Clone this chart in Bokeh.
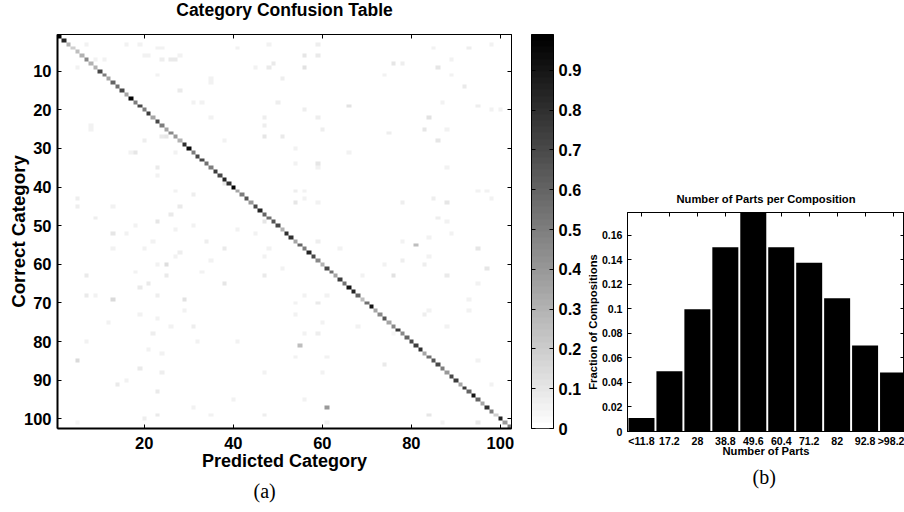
import numpy as np
from bokeh.embed import file_html
from bokeh.resources import INLINE
from bokeh.layouts import row
from bokeh.models import (FixedTicker, LinearAxis, LinearColorMapper, Range1d, Title)
from bokeh.plotting import figure

# ---------- data ----------
title_a = "Category Confusion Table"
xlabel_a = "Predicted Category"
ylabel_a = "Correct Category"
xticks_a = [20, 40, 60, 80, 100]
yticks_a = [10, 20, 30, 40, 50, 60, 70, 80, 90, 100]
cbar_ticks = [0, 0.1, 0.2, 0.3, 0.4, 0.5, 0.6, 0.7, 0.8, 0.9]
cbar_max = 0.99

diagonal = [
    .99, .85, .30, .20, .25, .30, .45, .30, .30, .70, .50, .35, .60, .55, .70, .35, .97, .50, .70, .50,
    .75, .35, .70, .50, .35, .45, .40, .30, .80, .95, .50, .70, .70, .55, .50, .75, .70, .85, .80, .97,
    .35, .50, .65, .40, .70, .85, .60, .55, .65, .70, .30, .80, .80, .35, .60, .50, .85, .70, .45, .30,
    .70, .55, .35, .75, .55, .90, .85, .60, .25, .55, .90, .35, .45, .65, .35, .45, .75, .45, .60, .70,
    .75, .80, .35, .55, .65, .70, .50, .40, .70, .75, .35, .75, .60, .90, .60, .35, .80, .50, .20, .85,
    .40, .50,
]

# (correct category, predicted category, fraction) of the off-diagonal cells that can be read
off_diagonal = [
    (3, 7, .05), (3, 16, .06), (3, 19, .06), (4, 23, .05), (4, 24, .05), (6, 20, .05), (6, 21, .05),
    (7, 24, .07), (7, 26, .08), (7, 27, .08), (7, 11, .05), (7, 9, .05), (6, 28, .05), (9, 5, .05),
    (11, 23, .05), (15, 28, .09), (18, 31, .06), (18, 33, .05), (24, 8, .06), (25, 8, .06), (27, 24, .08),
    (27, 25, .10), (31, 18, .10), (31, 17, .05), (28, 20, .07), (31, 27, .06),
    (6, 56, .10), (6, 59, .08), (9, 56, .12), (8, 49, .08), (9, 48, .08), (9, 45, .06), (12, 35, .06),
    (13, 35, .05), (19, 66, .12), (22, 47, .07), (24, 47, .07), (27, 47, .10), (27, 51, .08), (25, 60, .07),
    (22, 59, .07), (34, 59, .10), (31, 66, .05), (30, 54, .05), (20, 56, .07), (18, 50, .07), (22, 35, .06),
    (3, 59, .07), (3, 48, .06), (4, 41, .06), (34, 54, .05), (28, 38, .05), (12, 51, .07),
    (8, 76, .10), (8, 78, .07), (9, 86, .10), (14, 92, .09), (22, 84, .12), (25, 83, .10), (28, 86, .10),
    (18, 87, .06), (19, 95, .07), (20, 98, .06), (20, 100, .06), (26, 75, .07), (4, 93, .07), (4, 85, .06),
    (7, 89, .05), (11, 74, .06), (11, 89, .05), (3, 98, .06), (25, 88, .05),
    (43, 5, .07), (45, 5, .07), (48, 9, .07), (45, 13, .06), (49, 23, .10), (45, 28, .08), (47, 26, .08),
    (52, 13, .10), (52, 16, .06), (56, 13, .06), (56, 20, .06), (60, 25, .13), (60, 23, .06), (63, 7, .08),
    (63, 25, .08), (62, 18, .06), (65, 21, .09), (66, 19, .08), (68, 7, .08), (68, 9, .06), (69, 13, .15),
    (69, 29, .12), (68, 23, .07), (42, 31, .07), (37, 23, .06), (35, 23, .08), (41, 27, .05), (57, 28, .07),
    (58, 27, .06), (54, 22, .06), (51, 27, .06), (62, 33, .05), (50, 31, .06), (50, 18, .05),
    (49, 47, .10), (39, 38, .08), (44, 54, .10), (56, 38, .09), (65, 38, .10), (63, 47, .09), (43, 56, .06),
    (41, 54, .07), (41, 56, .06), (54, 59, .07), (52, 45, .05), (59, 35, .06), (58, 47, .06), (68, 56, .06),
    (35, 59, .06), (44, 59, .05), (56, 64, .05), (61, 51, .05), (56, 48, .05), (54, 34, .07), (51, 41, .05),
    (68, 61, .06),
    (55, 81, .25), (56, 95, .10), (63, 76, .12), (61, 97, .10), (44, 88, .10), (44, 78, .07), (43, 85, .07),
    (48, 86, .07), (63, 88, .08), (63, 69, .06), (60, 83, .07), (60, 74, .06), (59, 78, .07), (52, 89, .06),
    (53, 84, .06), (54, 78, .06), (65, 95, .06), (58, 84, .05), (69, 93, .06), (35, 88, .06), (41, 95, .05),
    (41, 97, .05), (43, 98, .05), (49, 88, .05), (69, 69, .06),
    (85, 5, .14), (87, 19, .08), (78, 22, .07), (76, 26, .06), (76, 31, .07), (80, 32, .06), (80, 41, .06),
    (93, 23, .08), (91, 14, .08), (88, 24, .07), (99, 23, .08), (97, 31, .06), (99, 47, .07), (88, 47, .06),
    (82, 21, .05), (83, 24, .05), (90, 16, .05), (75, 12, .05), (80, 7, .05), (100, 20, .07), (101, 5, .04),
    (95, 40, .05), (99, 35, .05), (73, 19, .05), (72, 29, .05), (74, 23, .05),
    (81, 55, .25), (97, 61, .40), (99, 84, .10), (86, 74, .08), (70, 59, .08), (70, 54, .06), (73, 54, .06),
    (73, 83, .07), (78, 59, .07), (75, 60, .06), (101, 95, .08), (101, 87, .06), (85, 95, .06), (88, 60, .05),
    (95, 56, .06), (91, 98, .05), (72, 84, .06), (72, 93, .06), (84, 54, .06), (84, 61, .06), (78, 76, .04),
    (76, 68, .05), (76, 88, .05), (101, 61, .05), (78, 56, .05),
]

title_b = "Number of Parts per Composition"
xlabel_b = "Number of Parts"
ylabel_b = "Fraction of Compositions"
part_labels = ["<11.8", "17.2", "28", "38.8", "49.6", "60.4", "71.2", "82", "92.8", ">98.2"]
part_fractions = [0.011, 0.049, 0.0995, 0.150, 0.180, 0.150, 0.1375, 0.1085, 0.070, 0.048]
yticks_b = [0, 0.02, 0.04, 0.06, 0.08, 0.1, 0.12, 0.14, 0.16]

# ---------- helpers ----------
FONT = "Liberation Sans"
gray_palette = ["#%02x%02x%02x" % (g, g, g) for g in np.linspace(255, 0, 64).astype(int)]
mapper = LinearColorMapper(palette=gray_palette, low=0, high=cbar_max)


def style_axis(ax, tick_size, label_size, width=1):
    ax.major_tick_in = 4
    ax.major_tick_out = 0
    ax.minor_tick_in = 0
    ax.minor_tick_out = 0
    ax.axis_line_color = "black"
    ax.axis_line_width = width
    ax.major_tick_line_color = "black"
    ax.major_tick_line_width = 1
    ax.major_label_text_font = FONT
    ax.major_label_text_font_style = "bold"
    ax.major_label_text_font_size = tick_size
    ax.major_label_text_color = "black"
    ax.axis_label_text_font = FONT
    ax.axis_label_text_font_style = "bold"
    ax.axis_label_text_font_size = label_size
    ax.axis_label_text_color = "black"


def blank_axis(ticks, reserve=0):
    ax = LinearAxis(ticker=FixedTicker(ticks=ticks))
    style_axis(ax, "1px", "1px")
    ax.major_label_overrides = {t: "" for t in ticks}
    ax.major_label_standoff = 0
    if reserve:
        # invisible outward ticks reserve room between the frame's top ticks and the title
        ax.major_tick_out = reserve
        ax.major_tick_in = 0
        ax.major_tick_line_color = None
        ax.axis_line_color = None
    return ax


def base_fig(width, height, left, right, top, bottom, xr, yr, margin=(0, 0, 0, 0)):
    p = figure(width=width, height=height, x_range=xr, y_range=yr, output_backend="svg",
               toolbar_location=None, min_border_left=left, min_border_right=right,
               min_border_top=top, min_border_bottom=bottom, background_fill_color="white",
               border_fill_color="white", margin=margin)
    p.grid.visible = False
    p.outline_line_color = "black"
    p.outline_line_width = 1
    return p


# ---------- (a) confusion matrix ----------
matrix = np.zeros((102, 102))
for r_, c_, v_ in off_diagonal:
    matrix[r_ - 1, c_ - 1] = v_
for i_, v_ in enumerate(diagonal):
    matrix[i_, i_] = v_

a = base_fig(520, 519, 57, 9, 44, 81, Range1d(0.5, 102.5), Range1d(102.5, 0.5), margin=(-10, 0, 0, 0))
a.image(image=[matrix], x=0.5, y=0.5, dw=102, dh=102, color_mapper=mapper)
a.xaxis.ticker = FixedTicker(ticks=xticks_a)
a.yaxis.ticker = FixedTicker(ticks=yticks_a)
a.xaxis.axis_label = xlabel_a
a.yaxis.axis_label = ylabel_a
for ax in a.xaxis + a.yaxis:
    style_axis(ax, "16.5px", "18px", 2)
a.xaxis.major_label_standoff = 8
a.xaxis.axis_label_standoff = -1
a.yaxis.axis_label_text_font_size = "18.7px"
a.yaxis.major_label_standoff = 6
a.yaxis.axis_label_standoff = -8
a.add_layout(blank_axis(xticks_a), "above")
a.add_layout(blank_axis(xticks_a, reserve=10), "above")
a.add_layout(blank_axis(yticks_a), "right")
a.add_layout(Title(text=title_a, text_font=FONT, text_font_style="bold", text_font_size="17.5px",
                   text_color="black", align="center"), "above")
a.add_layout(Title(text="(a)", text_font="Liberation Serif", text_font_style="normal", text_font_size="20px",
                   text_color="black", align="left", offset=196, standoff=8), "below")

# ---------- colour bar ----------
cb = base_fig(70, 519, 11, 37, 44, 81, Range1d(0, 1), Range1d(0, cbar_max), margin=(-10, 0, 0, 0))
cb.image(image=[np.linspace(0, cbar_max, 64).reshape(64, 1)], x=0, y=0, dw=1, dh=cbar_max, color_mapper=mapper)
cb.xaxis.visible = False
cb.yaxis.visible = False
right_axis = LinearAxis(ticker=FixedTicker(ticks=cbar_ticks))
style_axis(right_axis, "16.5px", "16.5px")
right_axis.major_label_standoff = 5
cb.add_layout(right_axis, "right")
cb.add_layout(blank_axis(cbar_ticks), "left")

# ---------- (b) histogram ----------
b = base_fig(324, 344, 47, 0, 44, 81, Range1d(0.5, 10.41), Range1d(0, 0.1784), margin=(168, 0, 0, -10))
positions = list(range(1, len(part_fractions) + 1))
b.vbar(x=positions, top=part_fractions, width=0.93, bottom=0, fill_color="black", line_color=None)
b.xaxis.ticker = FixedTicker(ticks=positions)
b.xaxis.major_label_overrides = {i: s for i, s in zip(positions, part_labels)}
b.yaxis.ticker = FixedTicker(ticks=yticks_b)
b.yaxis.major_label_overrides = {0: "0", 0.02: "0.02", 0.04: "0.04", 0.06: "0.06", 0.08: "0.08",
                                 0.1: "0.1", 0.12: "0.12", 0.14: "0.14", 0.16: "0.16"}
b.xaxis.axis_label = xlabel_b
b.yaxis.axis_label = ylabel_b
for ax in b.xaxis + b.yaxis:
    style_axis(ax, "10.6px", "11.2px")
b.xaxis.major_label_standoff = 3
b.xaxis.axis_label_standoff = -5
b.yaxis.major_label_standoff = 5
b.yaxis.axis_label_standoff = 0
b.add_layout(blank_axis(positions), "above")
b.add_layout(blank_axis(positions, reserve=3), "above")
b.add_layout(blank_axis(yticks_b), "right")
b.add_layout(Title(text=title_b, text_font=FONT, text_font_style="bold", text_font_size="11.2px",
                   text_color="black", align="center", offset=-3), "above")
b.add_layout(Title(text="(b)", text_font="Liberation Serif", text_font_style="normal", text_font_size="20px",
                   text_color="black", align="left", offset=125, standoff=8), "below")

page = row(a, cb, b, spacing=0)
open("out.html", "w").write(file_html(page, INLINE))
